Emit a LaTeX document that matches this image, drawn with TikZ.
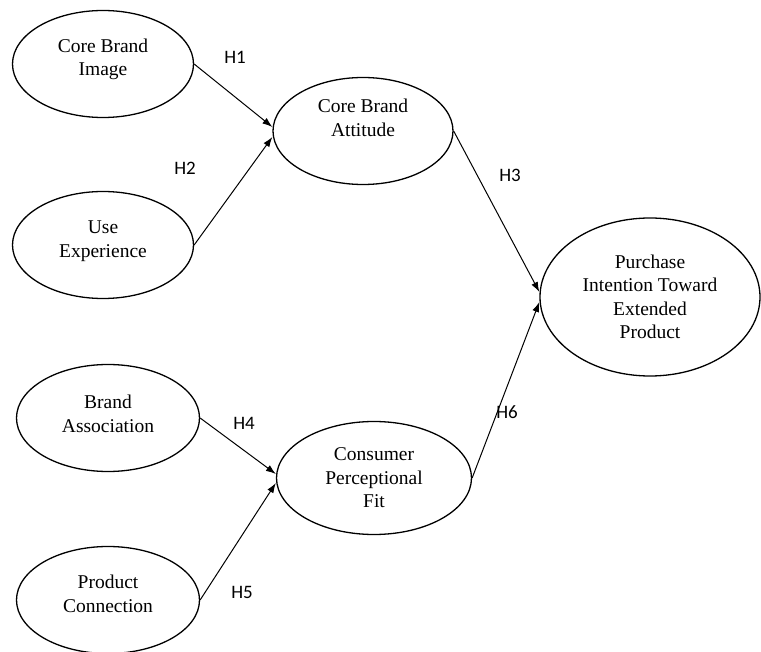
\documentclass[tikz,border=0pt]{standalone}
\usepackage{fontspec}
\setmainfont{Liberation Serif}
\newfontfamily\hypfont{Carlito}
\usetikzlibrary{arrows.meta,shapes.geometric}
\newlength{\EllipseWidth}
\newlength{\EllipseHeight}
\setlength{\EllipseWidth}{181pt}
\setlength{\EllipseHeight}{107pt}
\tikzset{
  construct/.style={draw, ellipse, line width=1.3pt, minimum width=\EllipseWidth, minimum height=\EllipseHeight, inner sep=0pt, align=center, font=\fontsize{19.5}{23.5}\selectfont},
  hyp label/.style={draw=none, font=\hypfont\fontsize{19}{22}\selectfont},
  path arrow/.style={-{Latex[length=10pt,width=7pt]}, line width=1pt}
}

\begin{document}
\begin{tikzpicture}[x=1pt, y=-1pt]
  \useasboundingbox (0,0) rectangle (761,652);

  \node[construct, text depth=14pt] (cbi) at (103,64) {Core Brand\\Image};
  \node[construct, text depth=12pt] (ue) at (103,245) {Use\\Experience};
  \node[construct, minimum width=180pt, text depth=27pt] (cba) at (363,131) {Core Brand\\Attitude};
  \node[construct, minimum width=183pt, text depth=9pt] (ba) at (108,418) {Brand\\Association};
  \node[construct, minimum width=183pt, text depth=13pt] (pc) at (108,600) {Product\\Connection};
  \node[construct, minimum width=195pt, minimum height=113pt] (cpf) at (374,478) {Consumer\\Perceptional\\Fit};
  \node[construct, minimum width=220pt, minimum height=158pt] (pit) at (650,297) {Purchase\\Intention Toward\\Extended\\Product};

  \node[hyp label] (h1) at (235,57) {H1};
  \node[hyp label] (h2) at (185,168) {H2};
  \node[hyp label] (h3) at (510,175) {H3};
  \node[hyp label] (h4) at (244,423) {H4};
  \node[hyp label] (h5) at (242,592) {H5};
  \node[hyp label] (h6) at (507,412) {H6};

  \draw[path arrow] (cbi.east) -- ([yshift=4pt]cba.west);
  \draw[path arrow] (ue.east) -- ([yshift=-6pt]cba.west);
  \draw[path arrow] (cba.east) -- ([yshift=5pt]pit.west);
  \draw[path arrow] (cpf.east) -- ([yshift=-5pt]pit.west);
  \draw[path arrow] (ba.east) -- ([yshift=4pt]cpf.west);
  \draw[path arrow] (pc.east) -- ([yshift=-5pt]cpf.west);
\end{tikzpicture}
\end{document}
